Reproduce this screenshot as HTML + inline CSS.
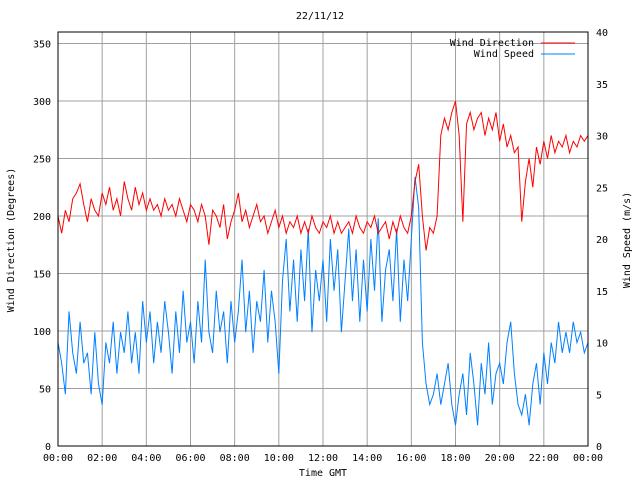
<!DOCTYPE html>
<html><head><meta charset="utf-8"><style>
html,body{margin:0;padding:0;background:#fff}
svg{display:block;font-family:"DejaVu Sans Mono","Liberation Mono",monospace;font-size:10px}
</style></head><body>
<svg id="chart" width="640" height="480" viewBox="0 0 640 480"></svg>
<script>
const xTickLabels=["00:00","02:00","04:00","06:00","08:00","10:00","12:00","14:00","16:00","18:00","20:00","22:00","00:00"];
const leftTicks=[0,50,100,150,200,250,300,350];
const rightTicks=[0,5,10,15,20,25,30,35,40];
const windDirection=[200,185,205,195,215,220,228,210,195,215,205,200,220,210,225,205,215,200,230,215,205,225,210,220,205,215,205,210,200,215,205,210,200,215,205,195,210,205,195,210,200,175,205,200,190,210,180,195,205,220,195,205,190,200,210,195,200,185,195,205,190,200,185,195,190,200,185,195,185,200,190,185,195,190,200,185,195,185,190,195,185,200,190,185,195,190,200,185,190,195,180,195,185,200,190,185,200,230,245,200,170,190,185,200,270,285,275,290,300,270,195,280,290,275,285,290,270,285,275,290,265,280,260,270,255,260,195,230,250,225,260,245,265,250,270,255,265,260,270,255,265,260,270,265,270];
const windSpeed=[10,8,5,13,9,7,12,8,9,5,11,6,4,10,8,12,7,11,9,13,8,11,7,14,10,13,8,12,9,14,11,7,13,9,15,10,12,8,14,10,18,11,9,15,11,13,8,14,10,13,18,11,15,9,14,12,17,10,15,12,7,16,20,13,18,12,19,14,21,11,17,14,18,12,20,15,19,11,16,21,14,19,12,18,13,20,15,22,12,17,19,14,21,12,18,14,20,26,23,10,6,4,5,7,4,6,8,4,2,5,7,3,9,6,2,8,5,10,4,7,8,6,10,12,7,4,3,5,2,6,8,4,9,6,10,8,12,9,11,9,12,10,11,9,10];
const L=58,R=588,T=32,B=446;
const svg=document.getElementById('chart');
const NS='http://www.w3.org/2000/svg';
function mk(t,a,txt){const e=document.createElementNS(NS,t);for(const k in a)e.setAttribute(k,a[k]);if(txt!==undefined)e.textContent=txt;svg.appendChild(e);return e;}
const xIdx=i=>L+(R-L)*i/(windDirection.length-1);
const xTick=i=>L+(R-L)*i/(xTickLabels.length-1);
const yL=v=>B-(B-T)*v/360;
const yR=v=>B-(B-T)*v/40;
let e;
e=mk('rect',{x:L,y:T,width:R-L,height:B-T,fill:'#fff',stroke:'none'});


xTickLabels.forEach((t,i)=>{const x=xTick(i);
 e=mk('line',{x1:x,y1:T,x2:x,y2:B,stroke:'#a0a0a0','stroke-width':1});
 
 
 e=mk('text',{x:x,y:461,'text-anchor':'middle',fill:'#000'},t);
 
 
});
leftTicks.forEach(v=>{const y=yL(v);
 e=mk('line',{x1:L,y1:y,x2:R,y2:y,stroke:'#a0a0a0','stroke-width':1});
 
 
 e=mk('text',{x:51,y:y+4,'text-anchor':'end',fill:'#000'},v);
 
 
});
rightTicks.forEach(v=>{const y=yR(v);
 e=mk('text',{x:596,y:y+4,'text-anchor':'start',fill:'#000'},v);
 
 
});
e=mk('polyline',{points:windSpeed.map((v,i)=>xIdx(i)+','+yR(v)).join(' '),fill:'none',stroke:'#0080ff','stroke-width':1});


e=mk('polyline',{points:windDirection.map((v,i)=>xIdx(i)+','+yL(v)).join(' '),fill:'none',stroke:'#ff0000','stroke-width':1});


e=mk('rect',{x:L,y:T,width:R-L,height:B-T,fill:'none',stroke:'#000','stroke-width':1});


e=mk('text',{x:320,y:19,'text-anchor':'middle'},'22/11/12');


e=mk('text',{x:323,y:476,'text-anchor':'middle'},'Time GMT');


e=mk('text',{x:14,y:240,'text-anchor':'middle',transform:'rotate(-90 14 240)'},'Wind Direction (Degrees)');


e=mk('text',{x:630,y:240,'text-anchor':'middle',transform:'rotate(-90 630 240)'},'Wind Speed (m/s)');


e=mk('text',{x:534,y:46,'text-anchor':'end'},'Wind Direction');


e=mk('line',{x1:541,y1:43,x2:575,y2:43,stroke:'#ff0000'});


e=mk('text',{x:534,y:57,'text-anchor':'end'},'Wind Speed');


e=mk('line',{x1:541,y1:54,x2:575,y2:54,stroke:'#0080ff'});


</script>
</body></html>
